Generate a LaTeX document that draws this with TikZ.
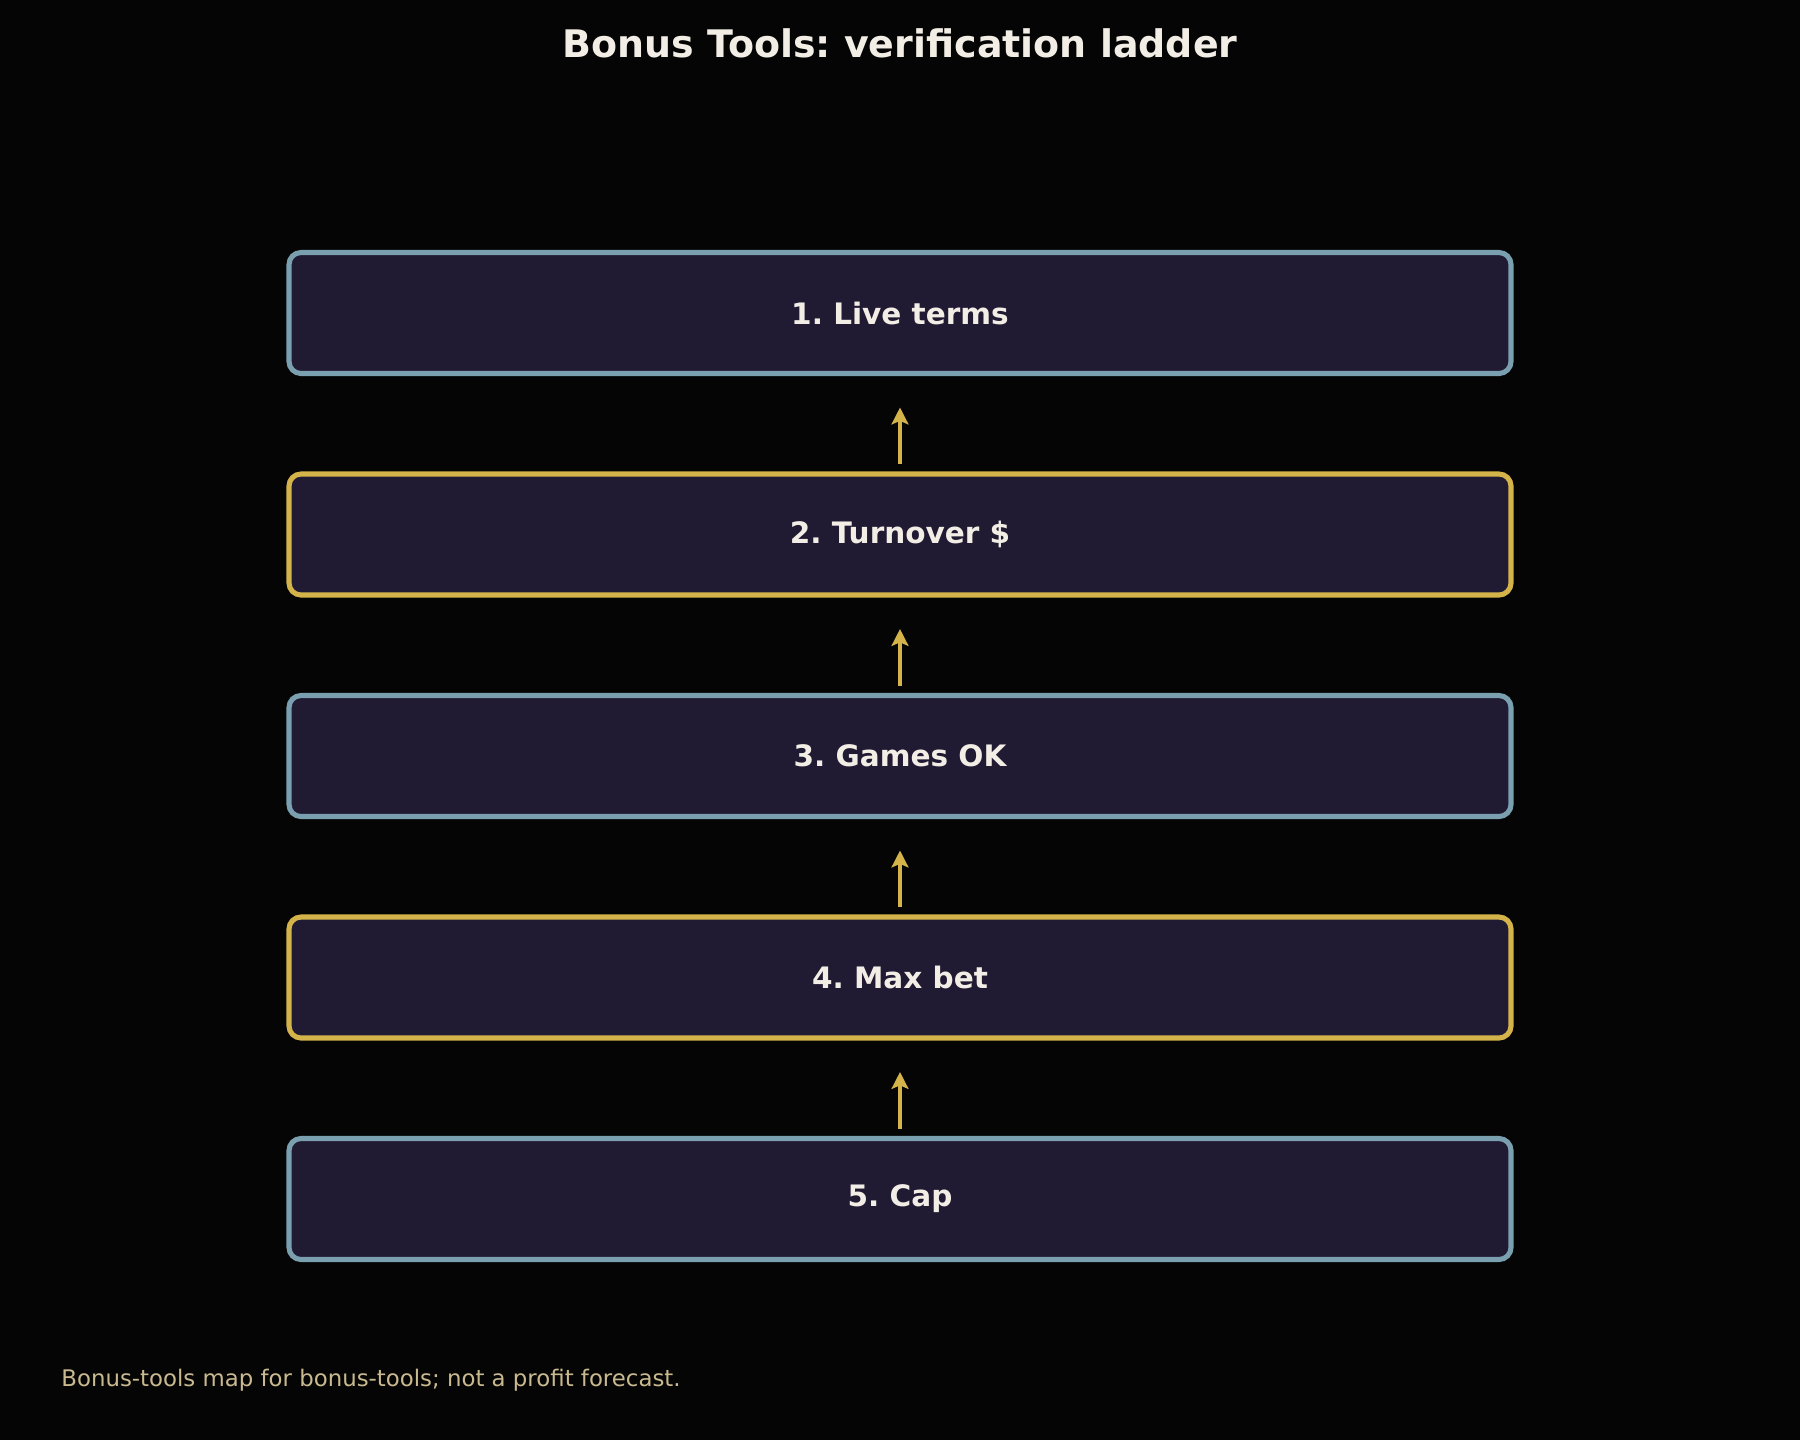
\documentclass[tikz,border=0pt]{standalone}
\usepackage{fontspec}
\setmainfont{DejaVu Sans}
\usetikzlibrary{arrows.meta}
\frenchspacing

\definecolor{bgblack}{HTML}{050505}
\definecolor{boxfill}{HTML}{211A33}
\definecolor{stepblue}{HTML}{7A9FAE}
\definecolor{stepgold}{HTML}{D4B44A}
\definecolor{titlewhite}{HTML}{F2EEE6}
\definecolor{notetan}{HTML}{C9B98F}

\tikzset{
  rung/.style={draw, line width=1.45pt, fill=boxfill, rounded corners=0.12cm,
    minimum width=12.22cm, minimum height=1.21cm, inner sep=0pt, outer sep=0pt,
    text=titlewhite, font=\bfseries\fontsize{8.4}{10}\selectfont},
  climb/.style={-{Stealth[length=4.8pt,width=4.8pt,inset=1pt]}, line width=1.05pt, stepgold,
    shorten <=0.1cm, shorten >=0.34cm}
}

\begin{document}
\begin{tikzpicture}
    % Background and page size
    \fill[bgblack] (0,0) rectangle (18,-14.4);
    \useasboundingbox (0,0) rectangle (18,-14.4);

    \node[text=titlewhite, font=\bfseries\fontsize{10.8}{13}\selectfont] (title) at (9,-0.43) {Bonus Tools: verification ladder};

    % The five rungs, top to bottom
    \node[rung, draw=stepblue] (live) at (9,-3.13) {1. Live terms};
    \node[rung, draw=stepgold] (turnover) at (9,-5.345) {2. Turnover \$};
    \node[rung, draw=stepblue] (games) at (9,-7.56) {3. Games OK};
    \node[rung, draw=stepgold] (maxbet) at (9,-9.775) {4. Max bet};
    \node[rung, draw=stepblue] (cap) at (9,-11.99) {5. Cap};

    % Arrows pointing up the ladder
    \foreach \lower/\upper in {turnover/live, games/turnover, maxbet/games, cap/maxbet}
        \draw[climb] (\lower.north) -- (\upper.south);

    \node[anchor=west, text=notetan, font=\fontsize{6.5}{8}\selectfont] (note) at (0.49,-13.80) {Bonus-tools map for bonus-tools; not a profit forecast.};
\end{tikzpicture}
\end{document}
